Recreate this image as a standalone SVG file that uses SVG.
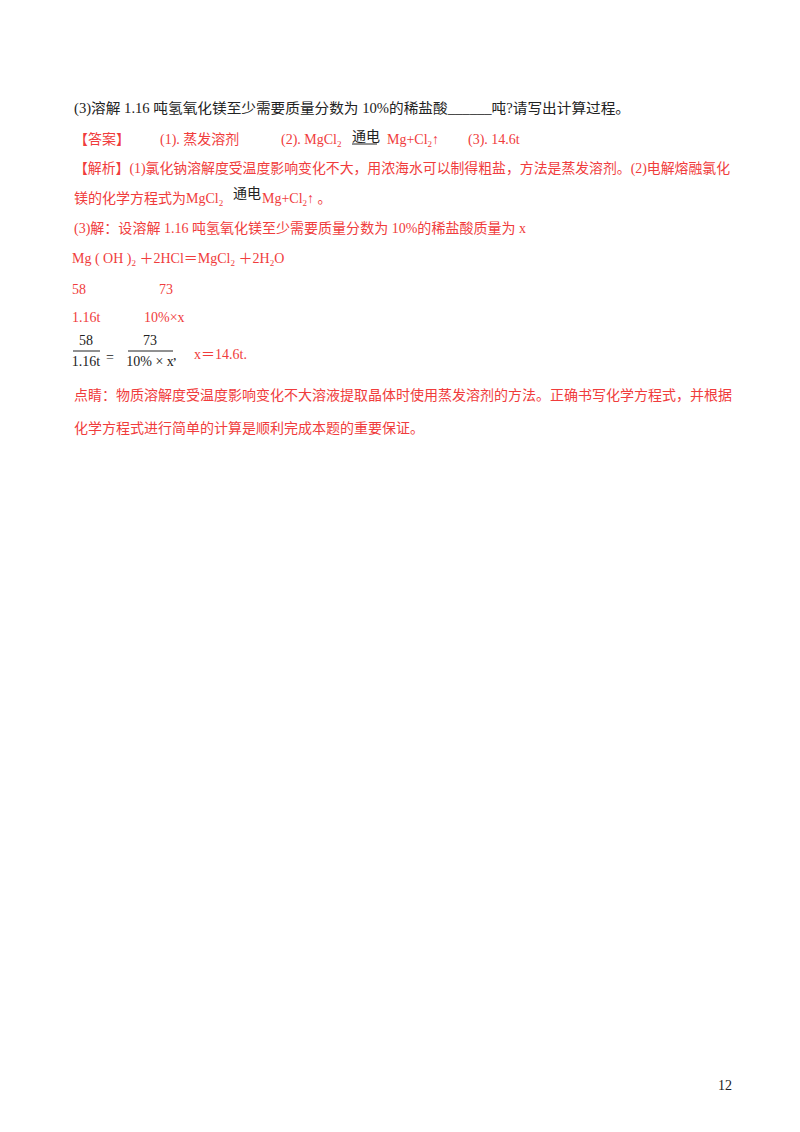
<svg xmlns="http://www.w3.org/2000/svg" width="800" height="1132" viewBox="0 0 800 1132">
<style>
text{font-family:"Liberation Serif","Noto Sans CJK SC",serif;font-size:14px}
.k{fill:#222}
.r{fill:#f03c3c}
.s{font-size:9px}
</style>
<rect width="800" height="1132" fill="#fff"/>
<text class="k" x="74" y="113" textLength="556" lengthAdjust="spacingAndGlyphs">(3)溶解 1.16 吨氢氧化镁至少需要质量分数为 10%的稀盐酸______吨?请写出计算过程。</text>
<text class="r" x="74" y="144">【答案】</text>
<text class="r" x="160" y="144">(1). 蒸发溶剂</text>
<text class="r" x="281" y="144">(2). MgCl<tspan class="s" dy="3">2</tspan></text>
<text class="k" x="352" y="141" font-size="13">通电</text>
<line x1="352" y1="144" x2="377" y2="144" stroke="#222" stroke-width="1"/>
<text class="r" x="387" y="144">Mg+Cl<tspan class="s" dy="3">2</tspan><tspan dy="-3">↑</tspan></text>
<text class="r" x="468" y="144">(3). 14.6t</text>
<text class="r" x="74" y="173" textLength="656" lengthAdjust="spacingAndGlyphs">【解析】(1)氯化钠溶解度受温度影响变化不大，用浓海水可以制得粗盐，方法是蒸发溶剂。(2)电解熔融氯化</text>
<text class="r" x="74" y="203">镁的化学方程式为MgCl<tspan class="s" dy="3">2</tspan></text>
<text class="k" x="233" y="198" font-size="13">通电</text>
<text class="r" x="262" y="203">Mg+Cl<tspan class="s" dy="3">2</tspan><tspan dy="-3">↑ 。</tspan></text>
<text class="r" x="74" y="233" textLength="452" lengthAdjust="spacingAndGlyphs">(3)解：设溶解 1.16 吨氢氧化镁至少需要质量分数为 10%的稀盐酸质量为 x</text>
<text class="r" x="72" y="263">Mg ( OH )<tspan class="s" dy="3">2</tspan><tspan dy="-3"> ＋2HCl＝MgCl</tspan><tspan class="s" dy="3">2</tspan><tspan dy="-3"> ＋2H</tspan><tspan class="s" dy="3">2</tspan><tspan dy="-3">O</tspan></text>
<text class="r" x="72" y="294">58</text>
<text class="r" x="159" y="294">73</text>
<text class="r" x="72" y="322">1.16t</text>
<text class="r" x="144" y="322">10%×x</text>
<text class="k" x="86" y="345" text-anchor="middle" font-size="13">58</text>
<line x1="73" y1="351" x2="100" y2="351" stroke="#222"/>
<text class="k" x="86" y="366" text-anchor="middle" font-size="13">1.16t</text>
<text class="k" x="106" y="362" font-size="16">=</text>
<text class="k" x="150" y="345" text-anchor="middle" font-size="13">73</text>
<line x1="128" y1="351" x2="173" y2="351" stroke="#222"/>
<text class="k" x="150" y="366" text-anchor="middle" font-size="12">10% × x</text>
<text class="k" x="173" y="360">,</text>
<text class="r" x="194" y="359">x＝14.6t.</text>
<text class="r" x="74" y="400" textLength="658" lengthAdjust="spacingAndGlyphs">点睛：物质溶解度受温度影响变化不大溶液提取晶体时使用蒸发溶剂的方法。正确书写化学方程式，并根据</text>
<text class="r" x="74" y="433" textLength="350" lengthAdjust="spacingAndGlyphs">化学方程式进行简单的计算是顺利完成本题的重要保证。</text>
<text class="k" x="718" y="1090" font-size="12">12</text>
</svg>
